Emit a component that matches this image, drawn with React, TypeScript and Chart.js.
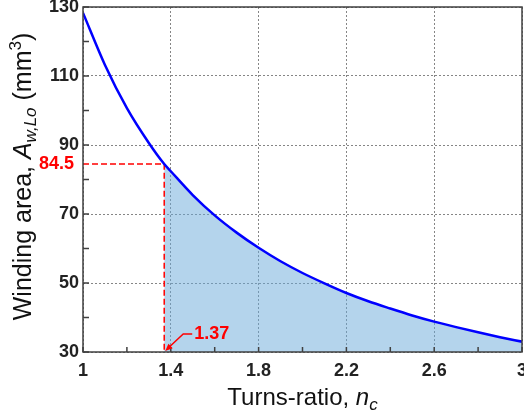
import { useEffect, useRef } from 'react';
import { Chart, registerables } from 'chart.js';

Chart.register(...registerables);

// ---- data ----
const turnsRatio = [1.0, 1.1, 1.2, 1.3, 1.37, 1.4, 1.5, 1.6, 1.7, 1.8, 1.9, 2.0, 2.1, 2.2, 2.3, 2.4, 2.5, 2.6, 2.7, 2.8, 2.9, 3.0];
const windingArea = [128.3, 113.2, 100.7, 90.6, 84.5, 82.4, 75.5, 69.6, 64.6, 60.2, 56.3, 52.9, 49.9, 47.1, 44.7, 42.6, 40.6, 38.8, 37.2, 35.7, 34.3, 33.0];
const markN = 1.37;
const markA = 84.5;
const xMajorTicks = [1, 1.4, 1.8, 2.2, 2.6, 3];
const yMajorTicks = [30, 50, 70, 90, 110, 130];
const xRange = [1, 3];
const yRange = [30, 130];

const FONT = 'Arial, "Liberation Sans", sans-serif';

const isMajor = (v: number, list: number[]) => list.some((m) => Math.abs(m - v) < 1e-6);

type Seg = { text: string; font: string; dy?: number; color?: string };

function drawSegs(ctx: CanvasRenderingContext2D, segs: Seg[]) {
  let total = 0;
  for (const s of segs) {
    ctx.font = s.font;
    total += ctx.measureText(s.text).width;
  }
  let x = -total / 2;
  for (const s of segs) {
    ctx.font = s.font;
    ctx.fillText(s.text, x, s.dy || 0);
    x += ctx.measureText(s.text).width;
  }
}

const decorPlugin = {
  id: 'decor',
  afterDatasetsDraw(chart: any) {
    const { ctx, chartArea: a, scales } = chart;
    const xs = scales.x;
    const ys = scales.y;
    ctx.save();
    // inward ticks
    ctx.strokeStyle = '#404040';
    ctx.lineWidth = 1.5;
    ctx.beginPath();
    for (const t of xs.ticks) {
      const px = xs.getPixelForValue(t.value);
      ctx.moveTo(px, a.bottom);
      ctx.lineTo(px, a.bottom - 5);
    }
    for (const t of ys.ticks) {
      const py = ys.getPixelForValue(t.value);
      ctx.moveTo(a.left, py);
      ctx.lineTo(a.left + 6, py);
    }
    ctx.stroke();
    // frame
    ctx.lineWidth = 1.5;
    ctx.strokeRect(a.left, a.top, a.right - a.left, a.bottom - a.top);

    // annotations
    const mx = xs.getPixelForValue(markN);
    const my = ys.getPixelForValue(markA);
    ctx.fillStyle = '#ff0000';
    ctx.font = `bold 18px ${FONT}`;
    ctx.textAlign = 'right';
    ctx.textBaseline = 'middle';
    ctx.fillText(String(markA), a.left - 9, my);

    const by = ys.getPixelForValue(yRange[0]);
    ctx.textAlign = 'left';
    ctx.fillText(String(markN), mx + 30, by - 18);
    ctx.strokeStyle = '#ff0000';
    ctx.lineWidth = 1.5;
    ctx.beginPath();
    ctx.moveTo(mx + 28, by - 18);
    ctx.lineTo(mx + 19, by - 18);
    ctx.lineTo(mx + 4, by - 4);
    ctx.stroke();
    // arrow head
    const tipX = mx + 1, tipY = by - 1;
    const ang = Math.atan2(tipY - (by - 18), tipX - (mx + 19));
    ctx.beginPath();
    ctx.moveTo(tipX, tipY);
    ctx.lineTo(tipX - 8 * Math.cos(ang - 0.4), tipY - 8 * Math.sin(ang - 0.4));
    ctx.lineTo(tipX - 8 * Math.cos(ang + 0.4), tipY - 8 * Math.sin(ang + 0.4));
    ctx.closePath();
    ctx.fill();

    // axis titles
    ctx.fillStyle = '#111';
    ctx.textAlign = 'left';
    ctx.textBaseline = 'alphabetic';
    ctx.save();
    ctx.translate((a.left + a.right) / 2, 405);
    drawSegs(ctx, [
      { text: 'Turns-ratio, ', font: `24px ${FONT}` },
      { text: 'n', font: `italic 24px ${FONT}` },
      { text: 'c', font: `italic 17px ${FONT}`, dy: 5 },
    ]);
    ctx.restore();

    ctx.save();
    ctx.translate(31, (a.top + a.bottom) / 2 - 3);
    ctx.rotate(-Math.PI / 2);
    drawSegs(ctx, [
      { text: 'Winding area, ', font: `25px ${FONT}` },
      { text: 'A', font: `italic 25px ${FONT}` },
      { text: 'w,Lo', font: `italic 17px ${FONT}`, dy: 5 },
      { text: ' (mm', font: `25px ${FONT}` },
      { text: '3', font: `17px ${FONT}`, dy: -10 },
      { text: ')', font: `25px ${FONT}` },
    ]);
    ctx.restore();
    ctx.restore();
  },
};

export default function App() {
  const ref = useRef<HTMLCanvasElement>(null);
  useEffect(() => {
    document.body.style.margin = '0';
    const curve = turnsRatio.map((x, i) => ({ x, y: windingArea[i] }));
    const shaded = curve.filter((p) => p.x >= markN - 1e-9);
    const guide = [
      { x: xRange[0], y: markA },
      { x: markN, y: markA },
      { x: markN, y: yRange[0] },
    ];
    const chart = new Chart(ref.current!, {
      type: 'line',
      data: {
        datasets: [
          {
            data: curve,
            borderColor: '#0000ff',
            borderWidth: 2.5,
            pointRadius: 0,
            cubicInterpolationMode: 'monotone',
            fill: false,
            order: 0,
          },
          {
            data: guide,
            borderColor: '#ff0000',
            borderWidth: 1.5,
            borderDash: [6, 3],
            pointRadius: 0,
            tension: 0,
            fill: false,
            order: 1,
          },
          {
            data: shaded,
            borderWidth: 0,
            borderColor: 'rgba(0,0,0,0)',
            backgroundColor: 'rgba(105,169,217,0.5)',
            pointRadius: 0,
            cubicInterpolationMode: 'monotone',
            fill: 'start',
            order: 2,
          },
        ],
      },
      options: {
        animation: false,
        responsive: true,
        maintainAspectRatio: false,
        layout: { padding: { top: 7, right: 2, left: 0, bottom: 0 } },
        plugins: { legend: { display: false }, tooltip: { enabled: false } },
        scales: {
          x: {
            type: 'linear',
            min: xRange[0],
            max: xRange[1],
            ticks: {
              stepSize: 0.2,
              autoSkip: false,
              maxRotation: 0,
              padding: 8,
              color: '#222',
              font: { family: FONT, size: 18, weight: 'bold' },
              callback: (v: any) => (isMajor(Number(v), xMajorTicks) ? String(xMajorTicks.find((m) => Math.abs(m - Number(v)) < 1e-6)) : ''),
            },
            grid: {
              drawTicks: false,
              tickLength: 0,
              lineWidth: 1,
              color: (c: any) => (c.tick && isMajor(c.tick.value, xMajorTicks) ? 'rgba(120,120,120,0.9)' : 'rgba(0,0,0,0)'),
            },
            border: { display: false, dash: [2, 2] },
            afterFit: (s: any) => {
              s.height = 67;
              s.paddingLeft = 0;
              s.paddingRight = 0;
            },
          },
          y: {
            type: 'linear',
            min: yRange[0],
            max: yRange[1],
            ticks: {
              stepSize: 10,
              autoSkip: false,
              padding: 4,
              color: '#222',
              font: { family: FONT, size: 18, weight: 'bold' },
              callback: (v: any) => (isMajor(Number(v), yMajorTicks) ? String(v) : ''),
            },
            grid: {
              drawTicks: false,
              tickLength: 0,
              lineWidth: 1,
              color: (c: any) => (c.tick && isMajor(c.tick.value, yMajorTicks) ? 'rgba(120,120,120,0.9)' : 'rgba(0,0,0,0)'),
            },
            border: { display: false, dash: [2, 2] },
            afterFit: (s: any) => {
              s.width = 83;
              s.paddingTop = 0;
              s.paddingBottom = 0;
            },
          },
        },
      } as any,
      plugins: [decorPlugin],
    });
    return () => chart.destroy();
  }, []);
  return (
    <div style={{ width: 524, height: 419, position: 'relative' }}>
      <canvas ref={ref} />
    </div>
  );
}
